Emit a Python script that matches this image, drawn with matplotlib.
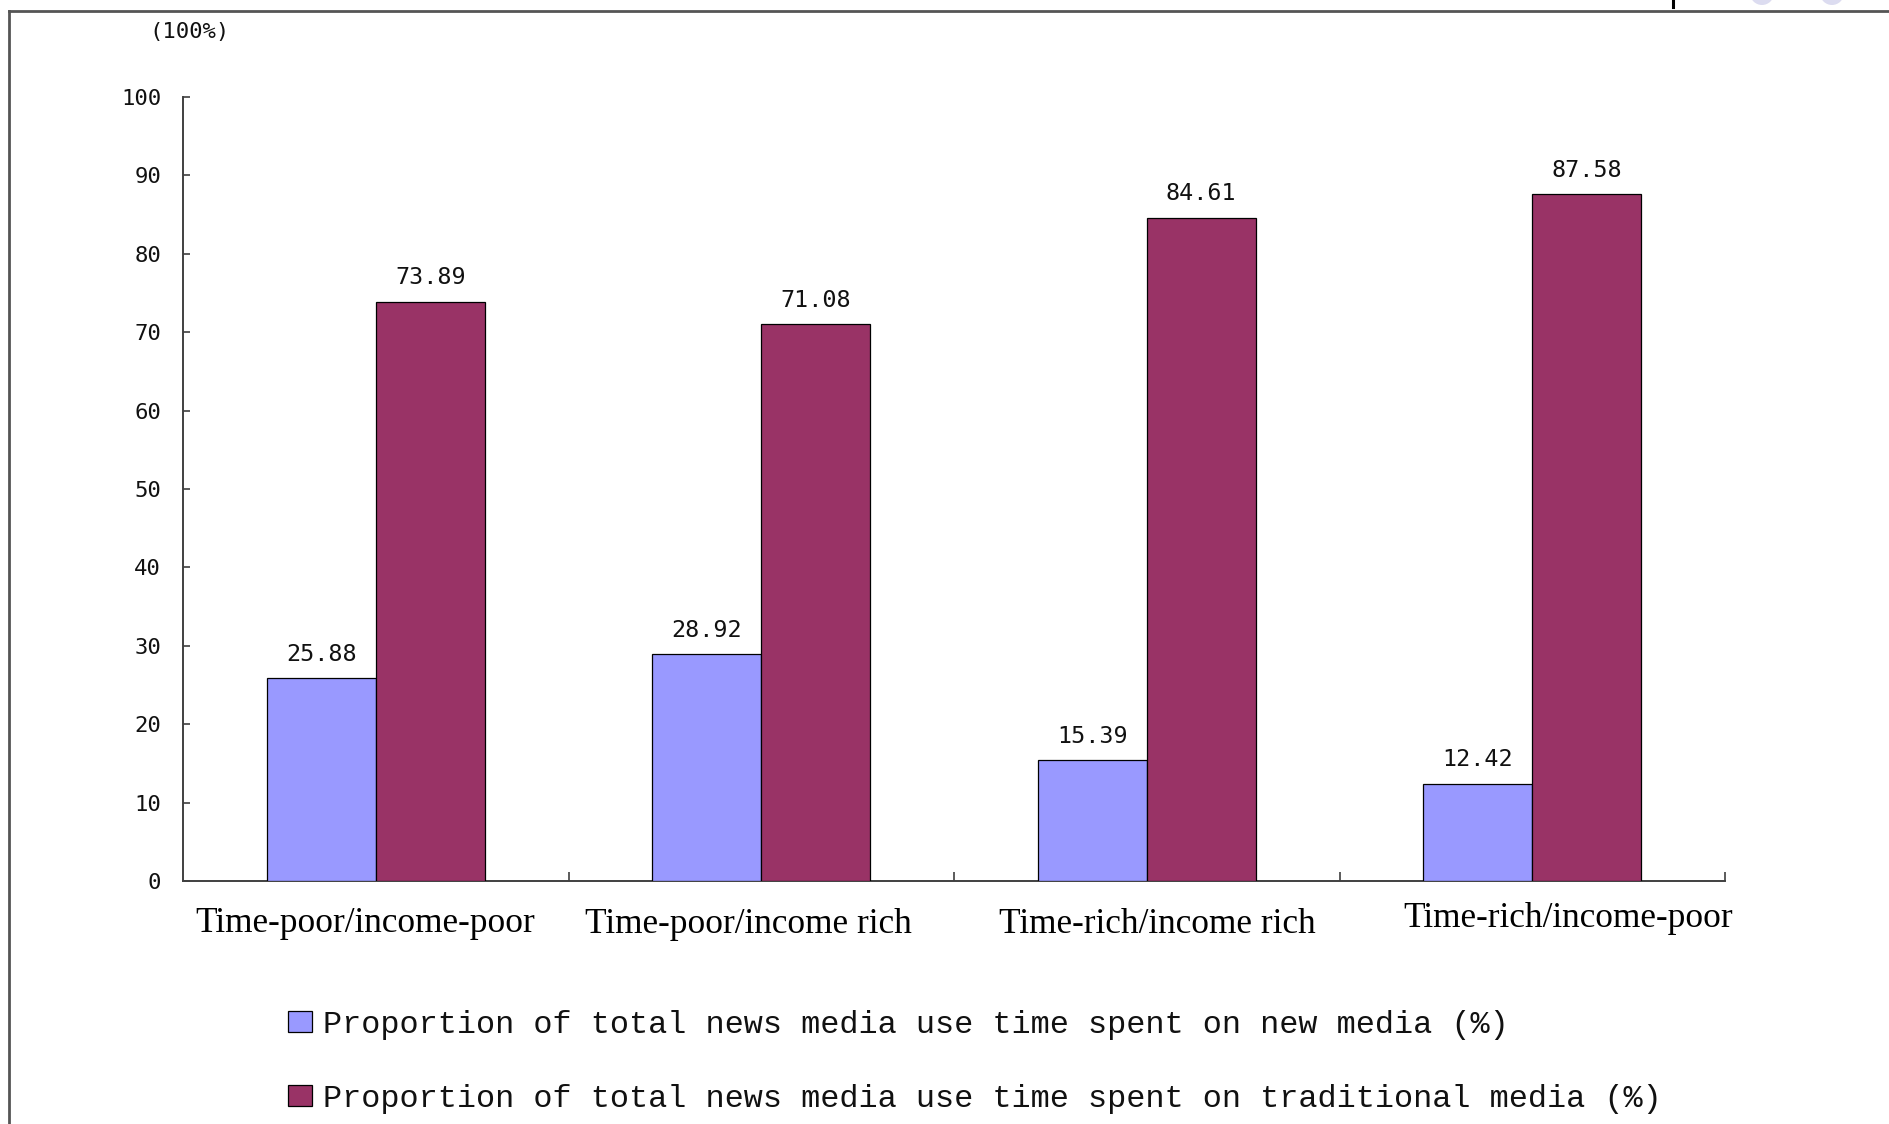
import matplotlib
matplotlib.use("Agg")
import matplotlib.pyplot as plt
import numpy as np
from matplotlib.lines import Line2D
from matplotlib.patches import Circle

# ---------------- data ----------------
categories = ["Time-poor/income-poor", "Time-poor/income rich",
              "Time-rich/income rich", "Time-rich/income-poor"]
new_media = [25.88, 28.92, 15.39, 12.42]
traditional_media = [73.89, 71.08, 84.61, 87.58]
series_names = ["Proportion of total news media use time spent on new media (%)",
                "Proportion of total news media use time spent on traditional media (%)"]
y_ticks = [0, 10, 20, 30, 40, 50, 60, 70, 80, 90, 100]
unit_label = "(100%)"

# ---------------- layout / style ----------------
W, H = 1889, 1124
DPI = 100
BLUE = "#9999FF"
PLUM = "#993366"
AXC = "#404040"
NUMFONT = "DejaVu Sans Mono"
MONOFONT = "Liberation Mono"
SERIF = "Liberation Serif"
bar_w = 0.283
# per-label horizontal shifts (data units) and baseline drop (points)
label_dx = [-0.027, -0.034, 0.027, 0.093]
label_drop = [36.6, 37.2, 37.6, 32.8]

fig = plt.figure(figsize=(W / DPI, H / DPI), dpi=DPI)
fig.patch.set_facecolor("white")

ax_left, ax_right = 183, 1725
ax_top, ax_bot = 97, 881
ax = fig.add_axes([ax_left / W, (H - ax_bot) / H,
                   (ax_right - ax_left) / W, (ax_bot - ax_top) / H])

x = np.arange(len(categories))
b1 = ax.bar(x - bar_w / 2, new_media, width=bar_w, color=BLUE,
            edgecolor="black", linewidth=0.9, label=series_names[0], zorder=3)
b2 = ax.bar(x + bar_w / 2, traditional_media, width=bar_w, color=PLUM,
            edgecolor="black", linewidth=0.9, label=series_names[1], zorder=3)

for bars, vals in ((b1, new_media), (b2, traditional_media)):
    for rect, v in zip(bars, vals):
        ax.annotate(f"{v:.2f}", xy=(rect.get_x() + rect.get_width() / 2, v),
                    xytext=(0, 12.4), textcoords="offset points",
                    ha="center", va="baseline", fontsize=16.8,
                    family=NUMFONT, color="#111111")

ax.set_xlim(-0.5, len(categories) - 0.5)
ax.set_ylim(0, 100)
ax.set_yticks(y_ticks)
ax.set_yticklabels([str(t) for t in y_ticks], family=NUMFONT, fontsize=16)
ax.tick_params(axis="y", direction="in", length=5, width=1.2, color=AXC,
               pad=15.8, labelcolor="#111111")

ax.set_xticks(x)
ax.set_xticklabels([])
ax.tick_params(axis="x", which="major", length=0)
ax.set_xticks(np.arange(len(categories)) + 0.5, minor=True)
ax.tick_params(axis="x", which="minor", direction="in", length=6.5,
               width=1.2, color=AXC)

for s in ("top", "right"):
    ax.spines[s].set_visible(False)
for s in ("left", "bottom"):
    ax.spines[s].set_color(AXC)
    ax.spines[s].set_linewidth(1.4)

for i, name in enumerate(categories):
    ax.annotate(name, xy=(x[i] + label_dx[i], 0),
                xycoords=("data", "axes fraction"),
                xytext=(0, -label_drop[i]), textcoords="offset points",
                ha="center", va="baseline", family=SERIF, fontsize=25.4,
                color="black")

# unit label
fig.text(190 / W, 1 - 32 / H, unit_label, ha="center", va="center",
         family=NUMFONT, fontsize=16, color="#111111")

# legend
leg = ax.legend(handles=[b1, b2], loc="center left",
                bbox_to_anchor=(288 / W, (H - 1062) / H),
                bbox_transform=fig.transFigure, frameon=False,
                prop={"family": MONOFONT, "size": 22.95},
                handlelength=0.75, handleheight=0.62, handletextpad=0.36,
                labelspacing=1.38, borderpad=0, borderaxespad=0)
for t in leg.get_texts():
    t.set_color("#111111")

# outer frame (screenshot border)
fig.add_artist(Line2D([9 / W, 9 / W], [0, 1 - 11 / H], transform=fig.transFigure,
                      color="#555555", linewidth=2.0))
fig.add_artist(Line2D([9 / W, 1], [1 - 11 / H, 1 - 11 / H], transform=fig.transFigure,
                      color="#555555", linewidth=2.0))
# small artifacts at top right of the screenshot
fig.add_artist(Line2D([1673 / W, 1673 / W], [1, 1 - 7 / H], transform=fig.transFigure,
                      color="black", linewidth=2.2))
for cx in (1762, 1832):
    fig.add_artist(Circle((cx, H + 7), 12, transform=None,
                          facecolor="#dcdcf0", edgecolor="none"))

fig.savefig("out.png", dpi=DPI, facecolor="white")
